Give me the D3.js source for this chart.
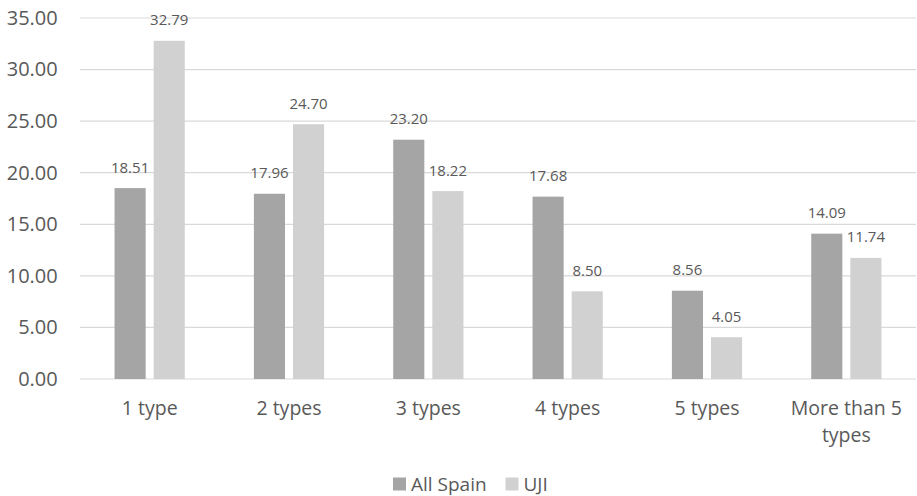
<!DOCTYPE html>
<html>
<head>
<meta charset="utf-8">
<script src="https://cdn.jsdelivr.net/npm/d3@7"></script>
<style>
  html, body { margin: 0; padding: 0; background: #fff; }
  svg { display: block; font-family: "Open Sans", sans-serif; }
</style>
</head>
<body>
<svg id="chart" width="917" height="496"></svg>
<script>
// Number of different types per respondent, share (%)
const categories = ["1 type", "2 types", "3 types", "4 types", "5 types", "More than 5 types"];
const seriesNames = ["All Spain", "UJI"];
const allSpain = [18.51, 17.96, 23.20, 17.68, 8.56, 14.09];
const uji = [32.79, 24.70, 18.22, 8.50, 4.05, 11.74];
const yTicks = [0, 5, 10, 15, 20, 25, 30, 35];

const colors = { "All Spain": "#a5a5a5", "UJI": "#d0d1d0" };
const textColor = "#595959";
const gridColor = "#d9d9d9";

const svg = d3.select("#chart");
const margin = { left: 80, right: 1, top: 18, bottom: 117 };
const W = 917, H = 496;

const x0 = d3.scaleBand().domain(categories).range([margin.left, W - margin.right]).padding(0);
const x1 = d3.scaleBand().domain(seriesNames)
  .range([x0.bandwidth() * 0.248, x0.bandwidth() * 0.752])
  .paddingInner(0.205);
const y = d3.scaleLinear().domain([0, 35]).range([H - margin.bottom, margin.top]);

// gridlines
svg.append("g")
  .selectAll("line")
  .data(yTicks)
  .join("line")
  .attr("x1", margin.left).attr("x2", W - margin.right)
  .attr("y1", d => y(d)).attr("y2", d => y(d))
  .attr("stroke", gridColor).attr("stroke-width", 1.2);

// y axis labels
const yAxis = d3.axisLeft(y).tickValues(yTicks).tickFormat(d => d.toFixed(2)).tickSize(0).tickPadding(22.3);
const yg = svg.append("g").attr("transform", `translate(${margin.left},0)`).call(yAxis);
yg.select(".domain").remove();
yg.selectAll("text").attr("fill", textColor).style("font-size", "20px").style("font-family", "Open Sans");

// bars
const rows = categories.map((c, i) => ({ cat: c, values: [
  { key: "All Spain", value: allSpain[i] },
  { key: "UJI", value: uji[i] }
]}));

const groups = svg.append("g").selectAll("g")
  .data(rows).join("g")
  .attr("transform", d => `translate(${x0(d.cat)},0)`);

groups.selectAll("rect")
  .data(d => d.values).join("rect")
  .attr("x", d => x1(d.key))
  .attr("width", x1.bandwidth())
  .attr("y", d => y(d.value))
  .attr("height", d => y(0) - y(d.value))
  .attr("fill", d => colors[d.key]);

groups.selectAll("text.val")
  .data(d => d.values).join("text")
  .attr("class", "val")
  .attr("x", d => x1(d.key) + x1.bandwidth() / 2)
  .attr("y", d => y(d.value) - 15.5)
  .attr("text-anchor", "middle")
  .attr("fill", textColor)
  .style("font-size", "15px")
  .text(d => d.value.toFixed(2));

// x axis category labels
const xAxis = d3.axisBottom(x0).tickSize(0).tickPadding(0);
const xg = svg.append("g").attr("transform", `translate(0,${y(0)})`).call(xAxis);
xg.select(".domain").remove();
xg.selectAll("text")
  .attr("fill", textColor)
  .style("font-size", "19.5px")
  .style("font-family", "Open Sans")
  .attr("dy", null)
  .attr("y", 36)
  .each(function() { wrap(d3.select(this), 125); });

function wrap(text, width) {
  const words = text.text().split(/\s+/);
  text.text(null);
  let line = [];
  let tspan = text.append("tspan").attr("x", 0).attr("dy", 0);
  for (const w of words) {
    line.push(w);
    tspan.text(line.join(" "));
    if (tspan.node().getComputedTextLength() > width && line.length > 1) {
      line.pop();
      tspan.text(line.join(" "));
      line = [w];
      tspan = text.append("tspan").attr("x", 0).attr("dy", "26.7px").text(w);
    }
  }
}

// legend
const legend = svg.append("g").attr("transform", "translate(393,484)");
const legendItems = [
  { key: "All Spain", x: 0 },
  { key: "UJI", x: 112.5 }
];
const li = legend.selectAll("g").data(legendItems).join("g")
  .attr("transform", d => `translate(${d.x},0)`);
li.append("rect")
  .attr("x", 0).attr("y", -6.5).attr("width", 13).attr("height", 13)
  .attr("fill", d => colors[d.key]);
li.append("text")
  .attr("x", 18).attr("y", 0).attr("dy", "0.35em")
  .attr("fill", textColor)
  .style("font-size", "19px")
  .text(d => d.key);
</script>
</body>
</html>
